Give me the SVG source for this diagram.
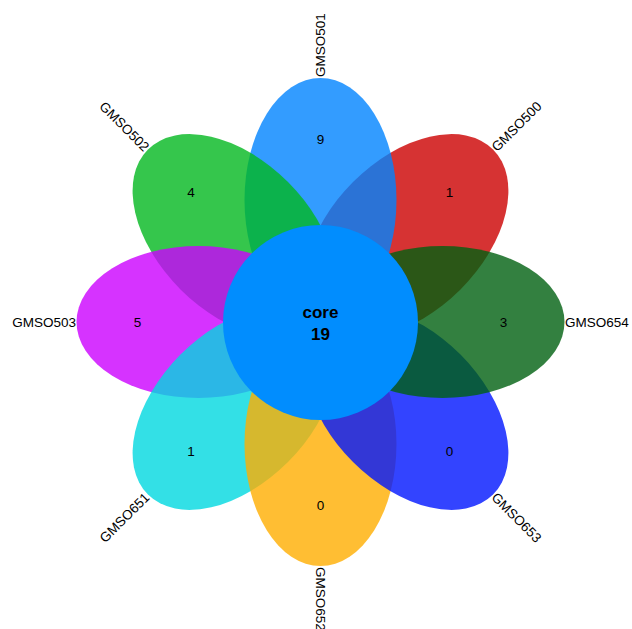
<svg xmlns="http://www.w3.org/2000/svg" width="632" height="629" viewBox="0 0 632 629">
<style>
.petal{fill-opacity:0.8;stroke:none}
.num{font-family:"Liberation Sans",Arial,sans-serif;font-size:13.5px;fill:#000;text-anchor:middle}
.lab{font-family:"Liberation Sans",Arial,sans-serif;font-size:13.5px;fill:#000}
.core{font-family:"Liberation Sans",Arial,sans-serif;font-size:17px;font-weight:bold;fill:#000;text-anchor:middle}
</style>
<rect width="632" height="629" fill="#fff"/>
<g id="GMSO500">
<ellipse class="petal" cx="122" cy="0" rx="122" ry="76" fill="#CC0000" transform="translate(320.5 322) rotate(-45)"/>
<text class="num" x="449.5" y="192.5" dy="0.35em">1</text>
<text class="lab" transform="translate(494 149) rotate(-45)" dy="0.35em">GMSO500</text>
</g>
<g id="GMSO501">
<ellipse class="petal" cx="122" cy="0" rx="122" ry="76" fill="#0083FF" transform="translate(320.5 322) rotate(-90)"/>
<text class="num" x="320.5" y="139" dy="0.35em">9</text>
<text class="lab" transform="translate(320.5 77) rotate(-90)" dy="0.35em">GMSO501</text>
</g>
<g id="GMSO502">
<ellipse class="petal" cx="122" cy="0" rx="122" ry="76" fill="#02B81F" transform="translate(320.5 322) rotate(-135)"/>
<text class="num" x="191" y="192.5" dy="0.35em">4</text>
<text class="lab" text-anchor="end" transform="translate(147 149) rotate(45)" dy="0.35em">GMSO502</text>
</g>
<g id="GMSO503">
<ellipse class="petal" cx="122" cy="0" rx="122" ry="76" fill="#CC00FF" transform="translate(320.5 322) rotate(-180)"/>
<text class="num" x="137.5" y="322" dy="0.35em">5</text>
<text class="lab" text-anchor="end" x="76" y="322" dy="0.35em">GMSO503</text>
</g>
<g id="GMSO651">
<ellipse class="petal" cx="122" cy="0" rx="122" ry="76" fill="#00D8E0" transform="translate(320.5 322) rotate(-225)"/>
<text class="num" x="191" y="451.5" dy="0.35em">1</text>
<text class="lab" text-anchor="end" transform="translate(147 495) rotate(-45)" dy="0.35em">GMSO651</text>
</g>
<g id="GMSO652">
<ellipse class="petal" cx="122" cy="0" rx="122" ry="76" fill="#FFAE00" transform="translate(320.5 322) rotate(-270)"/>
<text class="num" x="320.5" y="505" dy="0.35em">0</text>
<text class="lab" transform="translate(320.5 567) rotate(90)" dy="0.35em">GMSO652</text>
</g>
<g id="GMSO653">
<ellipse class="petal" cx="122" cy="0" rx="122" ry="76" fill="#0015FF" transform="translate(320.5 322) rotate(-315)"/>
<text class="num" x="449.5" y="451.5" dy="0.35em">0</text>
<text class="lab" transform="translate(494 495) rotate(45)" dy="0.35em">GMSO653</text>
</g>
<g id="GMSO654">
<ellipse class="petal" cx="122" cy="0" rx="122" ry="76" fill="#006010" transform="translate(320.5 322)"/>
<text class="num" x="503.5" y="322" dy="0.35em">3</text>
<text class="lab" x="565" y="322" dy="0.35em">GMSO654</text>
</g>
<g id="core">
<circle cx="320.5" cy="322.5" r="97.5" fill="#018DFE"/>
<text class="core" x="320.5" y="318">core</text>
<text class="core" x="320.5" y="339.5">19</text>
</g>
<g id="connectors"/>
</svg>
